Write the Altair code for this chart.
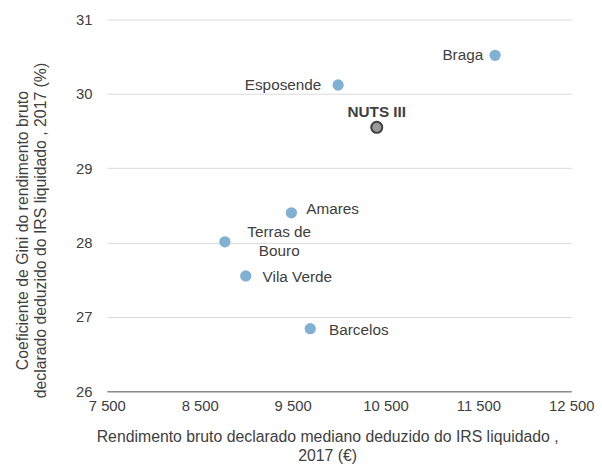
import altair as alt
import pandas as pd

names = ["Braga", "Esposende", "NUTS III", "Amares", "Terras de Bouro", "Vila Verde", "Barcelos"]
rendimento = [11680, 9990, 10406, 9487, 8771, 8996, 9690]
gini = [30.52, 30.12, 29.55, 28.40, 28.01, 27.55, 26.84]
x_ticks = [7500, 8500, 9500, 10500, 11500, 12500]
y_ticks = [26, 27, 28, 29, 30, 31]

df = pd.DataFrame({"name": names, "x": rendimento, "y": gini})
df["label"] = df["name"].apply(lambda s: ["Terras de", "Bouro"] if s == "Terras de Bouro" else s)

FONT = "Liberation Sans"
TXT = "#404040"

x_enc = alt.X("x:Q", scale=alt.Scale(domain=[7500, 12500], nice=False, zero=False),
              axis=alt.Axis(values=x_ticks, grid=False, ticks=False, domainColor="#8c8c8c",
                            domainWidth=1.5, labelPadding=8, labelFontSize=15,
                            labelFlush=False, labelOverlap=False,
                            labelColor=TXT, labelFont=FONT,
                            labelExpr="replace(format(datum.value, ','), ',', ' ')",
                            title=["Rendimento bruto declarado mediano deduzido do IRS liquidado ,", "2017 (€)"],
                            titleFontSize=16, titleFont=FONT, titleColor=TXT,
                            titleFontWeight="normal", titlePadding=15, titleLineHeight=19,
                            titleX=223))
y_enc = alt.Y("y:Q", scale=alt.Scale(domain=[26, 31], nice=False, zero=False),
              axis=alt.Axis(values=y_ticks, grid=True, gridColor="#d9d9d9", ticks=False,
                            domain=False, labelPadding=15, labelFontSize=15,
                            labelColor=TXT, labelFont=FONT,
                            title=["Coeficiente de Gini do rendimento bruto",
                                   "declarado deduzido do IRS liquidado , 2017 (%)"],
                            titleFontSize=16, titleFont=FONT, titleColor=TXT,
                            titleFontWeight="normal", titlePadding=27, titleLineHeight=19,
                            titleY=213))

base = alt.Chart(df).encode(x=x_enc, y=y_enc)

pts = base.transform_filter(alt.datum.name != "NUTS III").mark_circle(
    size=130, color="#80b1d3", opacity=1)
nuts = base.transform_filter(alt.datum.name == "NUTS III").mark_point(
    filled=True, size=125, fill="#9a9a9a", stroke="#404040", strokeWidth=2, opacity=1)

label_style = {
    "Braga": dict(align="right", dx=-12, dy=0),
    "Esposende": dict(align="right", dx=-17, dy=0),
    "NUTS III": dict(align="center", dx=0, dy=-15, fontWeight="bold"),
    "Amares": dict(align="left", dx=15, dy=-4),
    "Terras de Bouro": dict(align="center", dx=55, dy=-10, lineHeight=19),
    "Vila Verde": dict(align="left", dx=17, dy=1),
    "Barcelos": dict(align="left", dx=19, dy=1),
}

layers = [pts, nuts]
for n, st in label_style.items():
    layers.append(
        base.transform_filter(alt.datum.name == n).mark_text(
            font=FONT, fontSize=15.5, color=TXT, baseline="middle", **st
        ).encode(text="label")
    )

chart = alt.layer(*layers).properties(
    width=470, height=376,
    padding={"left": 6, "top": 2, "right": 0, "bottom": 0},
).configure_view(stroke=None)
chart.save("out.html", embed_options={"renderer": "svg", "actions": False})
